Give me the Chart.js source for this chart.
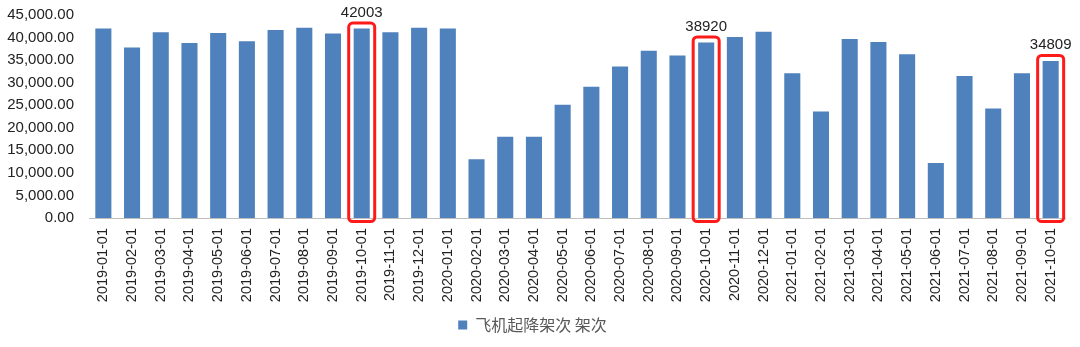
<!DOCTYPE html>
<html>
<head>
<meta charset="utf-8">
<script src="https://cdn.jsdelivr.net/npm/chart.js@4/dist/chart.umd.min.js"></script>
<style>
  html, body { margin: 0; padding: 0; background: #fff; }
  #wrap { width: 1080px; height: 347px; }
</style>
</head>
<body>
<div id="wrap"><canvas id="myChart" width="1080" height="347"></canvas></div>
<script>
// DATA
const months = [
  '2019-01-01','2019-02-01','2019-03-01','2019-04-01','2019-05-01','2019-06-01',
  '2019-07-01','2019-08-01','2019-09-01','2019-10-01','2019-11-01','2019-12-01',
  '2020-01-01','2020-02-01','2020-03-01','2020-04-01','2020-05-01','2020-06-01',
  '2020-07-01','2020-08-01','2020-09-01','2020-10-01','2020-11-01','2020-12-01',
  '2021-01-01','2021-02-01','2021-03-01','2021-04-01','2021-05-01','2021-06-01',
  '2021-07-01','2021-08-01','2021-09-01','2021-10-01'
];
const flights = [
  42000, 37800, 41200, 38800, 41000, 39200,
  41700, 42200, 40900, 42003, 41200, 42200,
  42000, 13000, 18000, 18000, 25100, 29100,
  33600, 37100, 36000, 38920, 40100, 41300,
  32100, 23600, 39700, 39000, 36300, 12200,
  31500, 24300, 32100, 34809
];
const highlighted = [9, 21, 33];
const seriesName = '飞机起降架次 架次';
const yTicks = [0, 5000, 10000, 15000, 20000, 25000, 30000, 35000, 40000, 45000];

// red boxes + value labels on highlighted bars
const boxPlugin = {
  id: 'boxes',
  afterDatasetsDraw(chart) {
    const c = chart.ctx;
    const meta = chart.getDatasetMeta(0);
    const base = chart.scales.y.getPixelForValue(0);
    c.save();
    highlighted.forEach(i => {
      const bar = meta.data[i];
      const left = bar.x - 13, right = bar.x + 13;
      const top = bar.y - 5.5, bottom = base + 3.5;
      c.strokeStyle = '#ff1a1a';
      c.lineWidth = 3;
      c.beginPath();
      c.roundRect(left, top, right - left, bottom - top, 4);
      c.stroke();
      c.fillStyle = '#222';
      c.font = '15px "Liberation Sans", Arial, sans-serif';
      c.textAlign = 'center';
      c.textBaseline = 'bottom';
      c.fillText(String(flights[i]), bar.x, top - 3);
    });
    c.restore();
  }
};

const ctx = document.querySelector('#myChart').getContext('2d');
const myChart = new Chart(ctx, {
  type: 'bar',
  data: {
    labels: months,
    datasets: [{
      label: seriesName,
      data: flights,
      backgroundColor: '#4f81bd',
      borderWidth: 0,
      categoryPercentage: 1,
      barPercentage: 0.56
    }]
  },
  options: {
    responsive: false,
    animation: false,
    layout: { padding: { top: 15, right: 15, left: 0, bottom: 4 } },
    plugins: {
      tooltip: { enabled: false },
      legend: {
        position: 'bottom',
        labels: {
          boxWidth: 9,
          boxHeight: 9,
          color: '#595959',
          font: { size: 16, family: '"Noto Sans CJK SC", sans-serif' }
        }
      }
    },
    scales: {
      x: {
        grid: { display: false, drawTicks: false },
        border: { display: true, color: '#bfbfbf', width: 1 },
        ticks: {
          color: '#222',
          autoSkip: false,
          maxRotation: 90,
          minRotation: 90,
          padding: 10,
          font: { size: 14.5, family: '"Liberation Sans", Arial, sans-serif' }
        },
        afterFit: s => { s.height = 89; }
      },
      y: {
        min: 0,
        max: 45000,
        afterBuildTicks: s => { s.ticks = yTicks.map(v => ({ value: v })); },
        grid: { display: false, drawTicks: false },
        border: { display: false },
        ticks: {
          color: '#222',
          padding: 15,
          font: { size: 15, family: '"Liberation Sans", Arial, sans-serif' },
          callback: v => v.toLocaleString('en-US', { minimumFractionDigits: 2, maximumFractionDigits: 2 })
        },
        afterFit: s => { s.width = 89; s.paddingTop = 0; s.paddingBottom = 0; }
      }
    }
  },
  plugins: [boxPlugin]
});
</script>
</body>
</html>
